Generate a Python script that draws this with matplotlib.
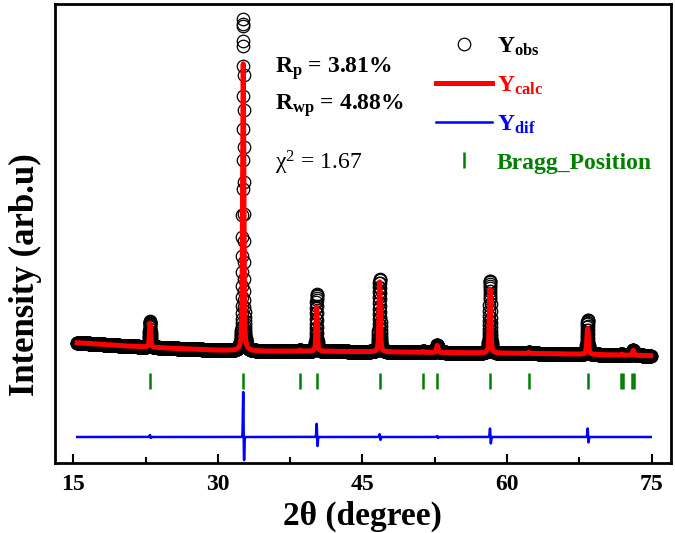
import numpy as np
import matplotlib
matplotlib.use("Agg")
import matplotlib.pyplot as plt
from matplotlib.lines import Line2D

plt.rcParams["font.family"] = ["Liberation Serif", "DejaVu Serif"]
plt.rcParams["mathtext.fontset"] = "custom"
plt.rcParams["mathtext.rm"] = "Liberation Serif"
plt.rcParams["mathtext.bf"] = "Liberation Serif:bold"
plt.rcParams["mathtext.it"] = "Liberation Serif:italic"

# scan range (degrees 2theta) and step
scan_start = 15.4
scan_end = 74.9
scan_step = 0.01

# background (arb. units)
bg_x = [15.4, 20, 25, 30, 35, 40, 45, 50, 55, 60, 65, 70, 74.9]
bg_y = [120, 117, 114.5, 112.5, 111.5, 111.5, 111, 110.5, 110, 109.5, 109, 108, 107]

# reflections: position, calculated height above background, width
peak_pos = [22.96, 32.63, 38.52, 40.25, 46.78, 51.31, 52.76, 58.23, 62.27, 68.36, 71.89, 73.09]
peak_height = [24, 287, 1, 44, 70, 1, 7, 64, 1, 26, 1, 5]
peak_fwhm = [0.16, 0.15, 0.16, 0.16, 0.17, 0.17, 0.18, 0.18, 0.18, 0.2, 0.2, 0.2]

# obs - calc misfit at the strong reflections
diff_pos = [22.96, 32.63, 40.25, 46.78, 52.76, 58.23, 68.36]
diff_up = [2, 47, 14, 3, 1, 9, 9]
diff_down = [1, 26, 10, 3, 1, 7, 6]
diff_offset = 25.7

# Bragg markers (double lines at the high angle end)
bragg_pos = [22.96, 32.63, 38.52, 40.25, 46.78, 51.31, 52.76, 58.23, 62.27,
             68.36, 71.8, 71.98, 73.0, 73.18]
bragg_level = 82


def pseudo_voigt(x, x0, w, eta=0.5):
    lor = 1.0 / (1.0 + ((x - x0) / (w / 2)) ** 2)
    gau = np.exp(-4 * np.log(2) * (x - x0) ** 2 / w ** 2)
    return eta * lor + (1 - eta) * gau


tt = np.arange(scan_start, scan_end + scan_step / 2, scan_step)
y_calc = np.interp(tt, bg_x, bg_y)
for p, h, w in zip(peak_pos, peak_height, peak_fwhm):
    y_calc = y_calc + h * pseudo_voigt(tt, p, w)

y_diff = np.zeros_like(tt)
for p, up, dn in zip(diff_pos, diff_up, diff_down):
    y_diff = y_diff + up * np.exp(-((tt - p) / 0.05) ** 2) - dn * np.exp(-((tt - p - 0.08) / 0.05) ** 2)
y_obs = y_calc + y_diff

fig = plt.figure(figsize=(6.75, 5.33), dpi=100)
ax = fig.add_axes([0.081, 0.1319, 0.9126, 0.8606])

ax.plot(tt, y_obs, "o", ms=9, mfc="none", mec="black", mew=0.9, zorder=2)
ax.plot(tt, y_calc, color="red", lw=3.6, zorder=3)
ax.plot(tt, y_diff + diff_offset, color="blue", lw=1.8, zorder=3)
ax.plot(bragg_pos, [bragg_level] * len(bragg_pos), "|", ms=12, mew=1.8, color="green", zorder=3)

ax.set_xlim(13.07, 76.97)
ax.set_ylim(0, 458.7)
ax.set_xticks([15, 30, 45, 60, 75])
ax.set_xticks([22.5, 37.5, 52.5, 67.5], minor=True)
ax.set_yticks([])
ax.tick_params(axis="x", which="major", direction="in", length=6.5, width=1.5, pad=8, labelsize=17)
ax.tick_params(axis="x", which="minor", direction="in", length=4.5, width=1.5)
for lab in ax.get_xticklabels():
    lab.set_fontweight("bold")
for s in ax.spines.values():
    s.set_linewidth(2)

ax.set_xlabel("2θ (degree)", fontsize=24, fontweight="bold", labelpad=4)
ax.set_ylabel("Intensity (arb.u)", fontsize=25, fontweight="bold")
ax.yaxis.set_label_coords(-0.02, 0.409)

ax.text(0.3576, 0.8496, r"$\mathbf{R_p}$ = 3.81%", transform=ax.transAxes,
        fontsize=17, fontweight="bold", va="baseline")
ax.text(0.3576, 0.7688, r"$\mathbf{R_{wp}}$ = 4.88%", transform=ax.transAxes,
        fontsize=17, fontweight="bold", va="baseline")
ax.text(0.3576, 0.6392, r"χ$^2$ = 1.67", transform=ax.transAxes,
        fontsize=17, va="baseline")

handles = [
    Line2D([], [], ls="none", marker="o", ms=9, mfc="none", mec="black", mew=0.9),
    Line2D([], [], color="red", lw=3.6),
    Line2D([], [], color="blue", lw=1.8),
    Line2D([], [], ls="none", marker="|", ms=12, mew=1.8, color="green"),
]
labels = [r"$\mathbf{Y_{obs}}$", r"$\mathbf{Y_{calc}}$", r"$\mathbf{Y_{dif}}$", "Bragg_Position"]
leg = ax.legend(handles, labels, loc="upper left", bbox_to_anchor=(0.619, 0.931),
                frameon=False, fontsize=17, handlelength=2.37, handletextpad=0.2,
                labelspacing=0.7, borderpad=0, borderaxespad=0)
for t, c in zip(leg.get_texts(), ["black", "red", "blue", "green"]):
    t.set_color(c)
    t.set_fontweight("bold")

fig.savefig("out.png", dpi=100)
